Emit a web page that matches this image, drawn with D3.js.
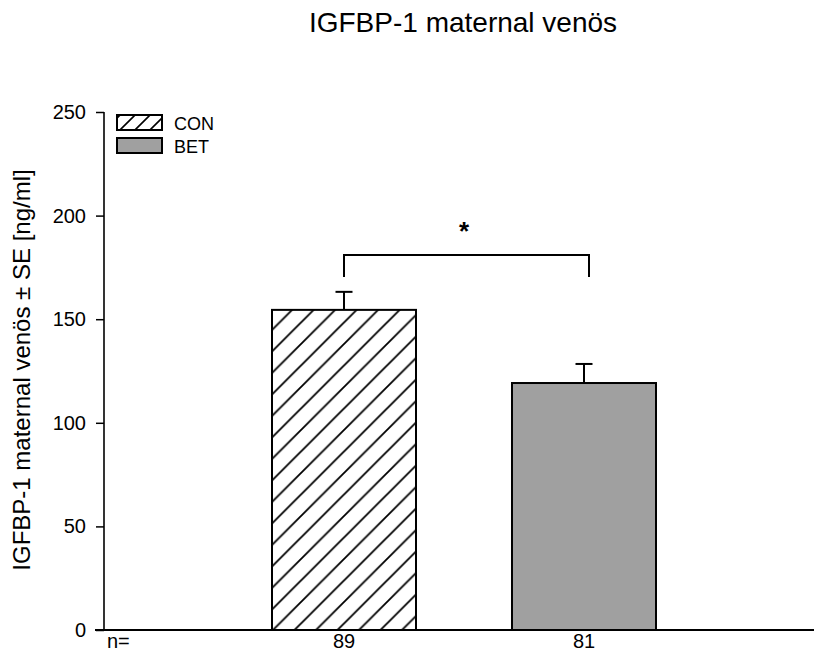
<!DOCTYPE html>
<html>
<head>
<meta charset="utf-8">
<script src="https://cdn.jsdelivr.net/npm/d3@7"></script>
<style>
  body { margin: 0; background: #fff; }
  text { font-family: "Liberation Sans", Arial, sans-serif; }
</style>
</head>
<body>
<svg id="chart" width="814" height="655"></svg>
<script>
// data
var groups = ["CON", "BET"];
var means = [154.5, 119.2];
var errors = [8.7, 9.2];
var counts = ["89", "81"];
var yTicks = [0, 50, 100, 150, 200, 250];

var svg = d3.select("#chart");

// scales
var x = d3.scaleBand()
  .domain(groups)
  .range([104, 824])
  .paddingInner(0.4)
  .paddingOuter(0.7);

var y = d3.scaleLinear()
  .domain([0, 250])
  .range([630, 112]);

// hatch patterns
var defs = svg.append("defs");
defs.append("pattern")
    .attr("id", "hatch")
    .attr("patternUnits", "userSpaceOnUse")
    .attr("width", 21.5)
    .attr("height", 21.5)
  .append("path")
    .attr("d", "M-1,1 l2,-2 M0,21.5 l21.5,-21.5 M20.5,22.5 l2,-2")
    .attr("stroke", "#000")
    .attr("stroke-width", 1.8);
defs.append("pattern")
    .attr("id", "hatchSmall")
    .attr("patternUnits", "userSpaceOnUse")
    .attr("x", 3)
    .attr("width", 15)
    .attr("height", 15)
  .append("path")
    .attr("d", "M-1,1 l2,-2 M0,15 l15,-15 M14,16 l2,-2")
    .attr("stroke", "#000")
    .attr("stroke-width", 1.6);

// title
svg.append("text")
  .attr("x", 463)
  .attr("y", 32)
  .attr("text-anchor", "middle")
  .attr("font-size", "28px")
  .text("IGFBP-1 maternal venös");

// y axis
var yAxis = svg.append("g")
  .attr("transform", "translate(104,0)")
  .call(d3.axisLeft(y).tickValues(yTicks).tickSize(8).tickPadding(10));
yAxis.select(".domain").attr("stroke-width", 1.6).attr("d", "M0,112V630");
yAxis.selectAll(".tick line").attr("stroke-width", 1.5);
yAxis.selectAll(".tick text")
  .attr("font-size", "20px")
  .attr("fill", "#000")
  .style("font-family", "Liberation Sans, Arial, sans-serif");

svg.append("text")
  .attr("transform", "translate(30,370) rotate(-90)")
  .attr("text-anchor", "middle")
  .attr("font-size", "24px")
  .text("IGFBP-1 maternal venös ± SE [ng/ml]");

// bars
svg.selectAll("rect.bar")
  .data(groups)
  .enter()
  .append("rect")
    .attr("class", "bar")
    .attr("x", function(d) { return x(d); })
    .attr("y", function(d, i) { return y(means[i]); })
    .attr("width", x.bandwidth())
    .attr("height", function(d, i) { return y(0) - y(means[i]); })
    .attr("fill", function(d) { return d == "CON" ? "url(#hatch)" : "#a0a0a0"; })
    .attr("stroke", "#000")
    .attr("stroke-width", 2);

// error bars
groups.forEach(function(g, i) {
  var cx = x(g) + x.bandwidth() / 2;
  svg.append("line")
    .attr("x1", cx).attr("x2", cx)
    .attr("y1", y(means[i])).attr("y2", y(means[i] + errors[i]))
    .attr("stroke", "#000").attr("stroke-width", 2);
  svg.append("line")
    .attr("x1", cx - 8.5).attr("x2", cx + 8.5)
    .attr("y1", y(means[i] + errors[i])).attr("y2", y(means[i] + errors[i]))
    .attr("stroke", "#000").attr("stroke-width", 2);
});

// x axis line
svg.append("line")
  .attr("x1", 95).attr("x2", 814)
  .attr("y1", y(0)).attr("y2", y(0))
  .attr("stroke", "#000").attr("stroke-width", 2);

// n= row
svg.append("text")
  .attr("x", 107).attr("y", 648)
  .attr("font-size", "20px")
  .text("n=");
svg.selectAll("text.count")
  .data(counts)
  .enter()
  .append("text")
    .attr("class", "count")
    .attr("x", function(d, i) { return x(groups[i]) + x.bandwidth() / 2; })
    .attr("y", 648)
    .attr("text-anchor", "middle")
    .attr("font-size", "20px")
    .text(function(d) { return d; });

// significance bracket
var c1 = x("CON") + x.bandwidth() / 2,
    c2 = x("BET") + x.bandwidth() / 2 + 5;
svg.append("path")
  .attr("d", "M" + c1 + "," + 277 + "V" + 255 + "H" + c2 + "V" + 277)
  .attr("fill", "none")
  .attr("stroke", "#000")
  .attr("stroke-width", 2);
svg.append("text")
  .attr("x", 464)
  .attr("y", 240)
  .attr("text-anchor", "middle")
  .attr("font-size", "26px")
  .attr("font-weight", "bold")
  .text("*");

// legend
var legend = svg.append("g").attr("transform", "translate(117,115)");
groups.forEach(function(g, i) {
  legend.append("rect")
    .attr("x", 0)
    .attr("y", i * 23)
    .attr("width", 45)
    .attr("height", 15)
    .attr("fill", g == "CON" ? "url(#hatchSmall)" : "#a0a0a0")
    .attr("stroke", "#000")
    .attr("stroke-width", 2);
  legend.append("text")
    .attr("x", 57)
    .attr("y", i * 23 + 15)
    .attr("font-size", "18px")
    .text(g);
});
</script>
</body>
</html>
